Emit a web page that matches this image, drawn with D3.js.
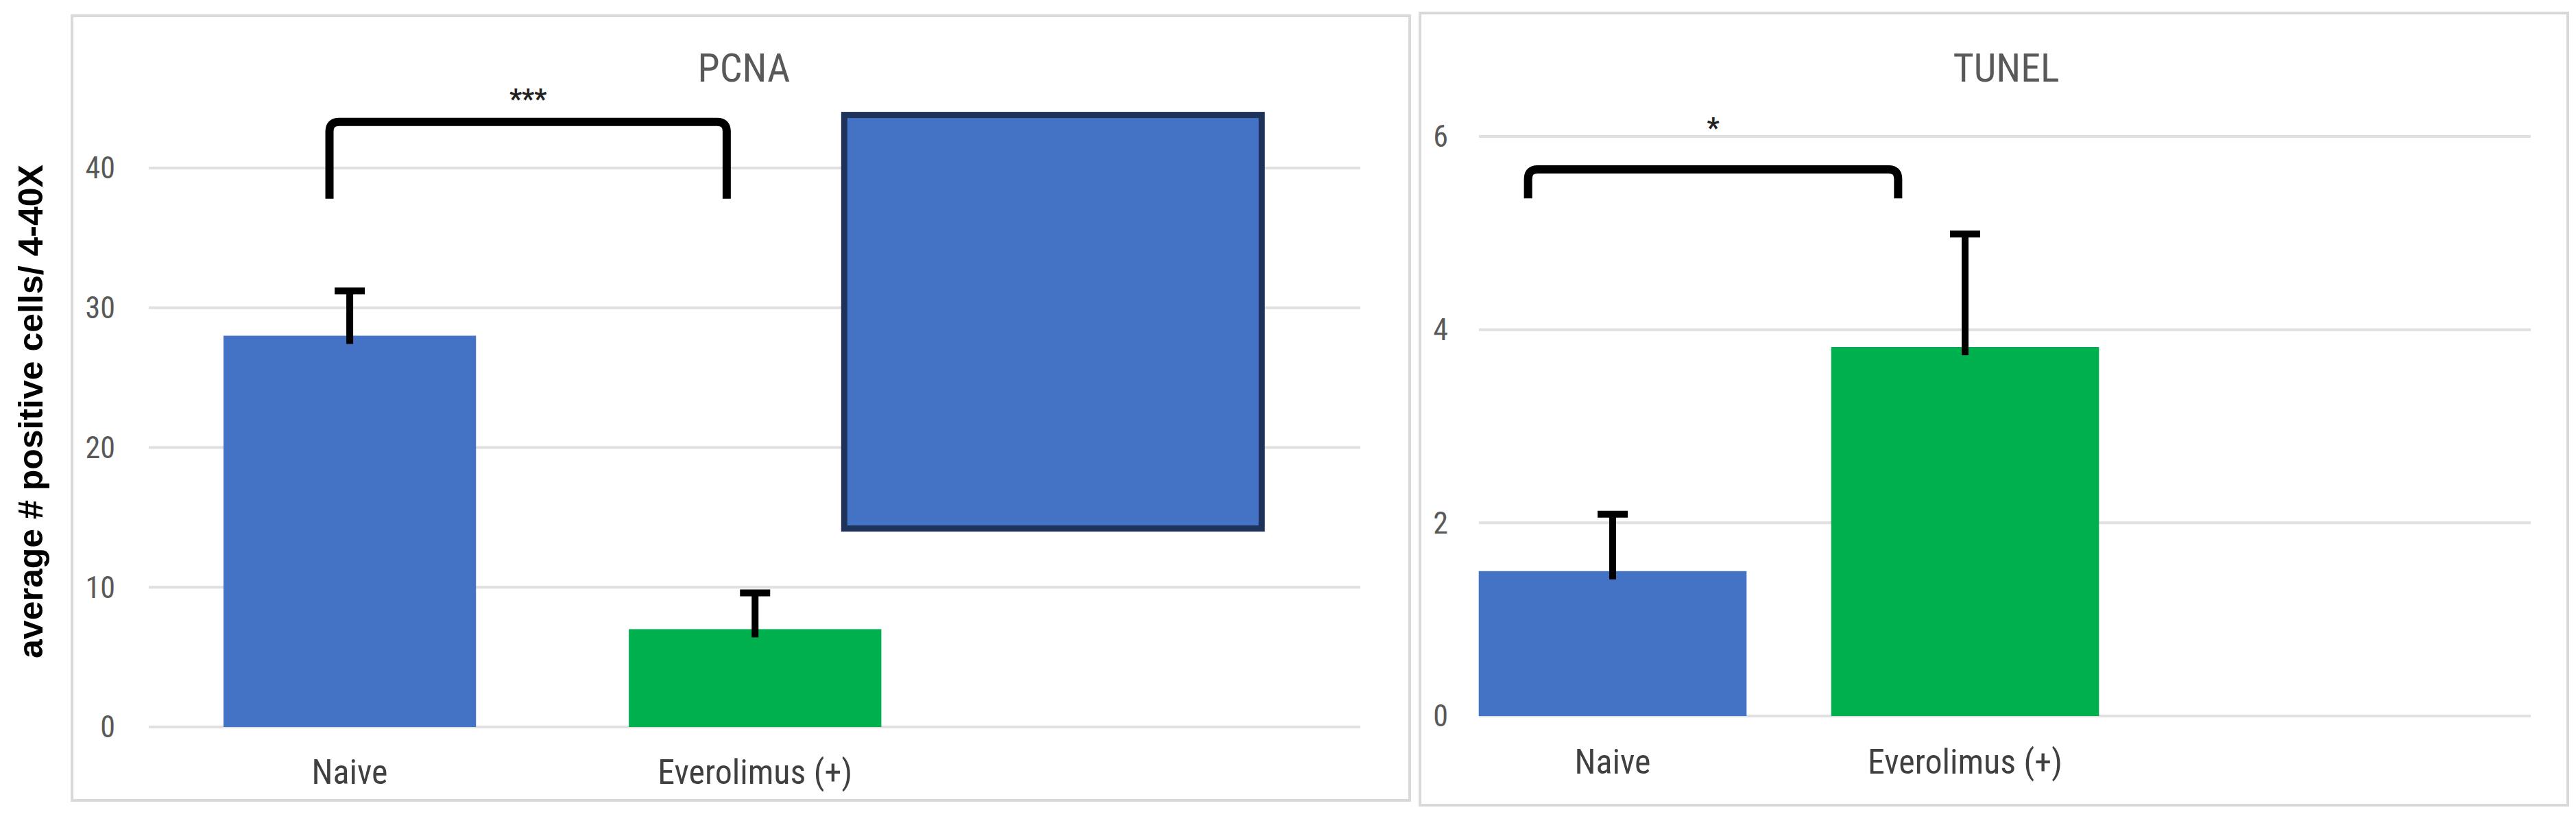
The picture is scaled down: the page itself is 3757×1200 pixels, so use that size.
<!DOCTYPE html>
<html><head><meta charset="utf-8">
<script src="https://cdn.jsdelivr.net/npm/d3@7"></script>
<style>body{margin:0;background:#fff}</style></head>
<body><svg id="c" width="3757" height="1200"></svg>
<script>
const categories = ["Naive", "Everolimus (+)", ""];
const pcnaValues = [28, 7];
const pcnaErrors = [3.2, 2.6];
const pcnaTicks = [0, 10, 20, 30, 40];
const tunelValues = [1.5, 3.82];
const tunelErrors = [0.59, 1.17];
const tunelTicks = [0, 2, 4, 6];
const colors = ["#4472c4", "#00b04f"];
const pcnaBox = {x0: 1.72, x1: 2.75, y0: 14.2, y1: 43.8};
const pcnaBracket = {a: 0.45, b: 1.43, top: 43.3, leg: 37.8, label: "***"};
const tunelBracket = {a: 0.26, b: 1.31, top: 5.66, leg: 5.36, label: "*"};

const svg = d3.select("#c");
const FONT = "'Liberation Sans Narrow','Roboto Condensed','Liberation Sans',sans-serif";

function panel(o) {
  const g = svg.append("g");
  g.append("rect").attr("x", o.bx0).attr("y", o.by0).attr("width", o.bx1 - o.bx0).attr("height", o.by1 - o.by0)
    .attr("fill", "#fff").attr("stroke", "#d9d9d9").attr("stroke-width", 4);
  const x = d3.scaleBand().domain(categories).range(o.xr).paddingInner(o.pad).paddingOuter(o.pad / 2);
  const xl = d3.scaleLinear().domain([0, 3]).range(o.xr);
  const y = d3.scaleLinear().domain(o.yd).range(o.yr);
  o.ticks.forEach(t => {
    g.append("line").attr("x1", o.gx[0]).attr("x2", o.gx[1]).attr("y1", y(t)).attr("y2", y(t))
      .attr("stroke", "#e0e0e0").attr("stroke-width", 4);
    g.append("text").attr("x", o.tx).attr("y", y(t)).attr("dy", "0.35em").attr("text-anchor", "end")
      .attr("font-family", FONT).attr("font-size", 44).attr("fill", "#595959").text(t);
  });
  o.values.forEach((v, i) => {
    const c = categories[i];
    g.append("rect").attr("x", x(c)).attr("width", x.bandwidth()).attr("y", y(v)).attr("height", y(0) - y(v)).attr("fill", colors[i]);
    const cx = x(c) + x.bandwidth() / 2;
    g.append("line").attr("x1", cx).attr("x2", cx).attr("y1", y(v) + 12).attr("y2", y(v + o.errs[i]))
      .attr("stroke", "#000").attr("stroke-width", 10);
    g.append("line").attr("x1", cx - 22).attr("x2", cx + 22).attr("y1", y(v + o.errs[i])).attr("y2", y(v + o.errs[i]))
      .attr("stroke", "#000").attr("stroke-width", 10);
    g.append("text").attr("x", cx).attr("y", o.ly).attr("text-anchor", "middle").attr("font-family", FONT)
      .attr("font-size", 50).attr("fill", "#404040").text(c);
  });
  const b = o.bracket;
  const ba = xl(b.a), bb = xl(b.b), bt = y(b.top), bl = y(b.leg), r = 14;
  g.append("path").attr("d", `M${ba},${bl} V${bt + r} Q${ba},${bt} ${ba + r},${bt} H${bb - r} Q${bb},${bt} ${bb},${bt + r} V${bl}`)
    .attr("fill", "none").attr("stroke", "#000").attr("stroke-width", 12);
  g.append("text").attr("x", (ba + bb) / 2).attr("y", o.sy).attr("text-anchor", "middle").attr("font-family", FONT)
    .attr("font-size", 40).attr("font-weight", "bold").attr("fill", "#222").text(b.label);
  g.append("text").attr("x", o.titleX).attr("y", 99).attr("dy", "0.35em").attr("text-anchor", "middle").attr("font-family", FONT)
    .attr("font-size", 58).attr("fill", "#595959").text(o.title);
  return {g, xl, y};
}

const p1 = panel({bx0: 105, bx1: 2056, by0: 23, by1: 1167, xr: [214.5, 1988], pad: 0.377, yd: [0, 40], yr: [1060, 245],
  gx: [217, 1984], tx: 168, ticks: pcnaTicks, values: pcnaValues, errs: pcnaErrors, ly: 1143, bracket: pcnaBracket,
  sy: 158, title: "PCNA", titleX: 1085});
p1.g.append("rect").attr("x", p1.xl(pcnaBox.x0)).attr("width", p1.xl(pcnaBox.x1) - p1.xl(pcnaBox.x0))
  .attr("y", p1.y(pcnaBox.y1)).attr("height", p1.y(pcnaBox.y0) - p1.y(pcnaBox.y1))
  .attr("fill", "#4472c4").attr("stroke", "#1f3259").attr("stroke-width", 9);

panel({bx0: 2071, bx1: 3745, by0: 19, by1: 1174, xr: [2095, 3637], pad: 0.24, yd: [0, 6], yr: [1044, 199],
  gx: [2157, 3691], tx: 2112, ticks: tunelTicks, values: tunelValues, errs: tunelErrors, ly: 1128, bracket: tunelBracket,
  sy: 200, title: "TUNEL", titleX: 2926});

svg.append("text").attr("transform", "translate(62,600) rotate(-90)").attr("text-anchor", "middle")
  .attr("font-family", "'Liberation Sans',Arial,sans-serif").attr("font-weight", "bold").attr("font-size", 50)
  .attr("fill", "#000").text("average # positive cells/ 4-40X");
</script></body></html>
